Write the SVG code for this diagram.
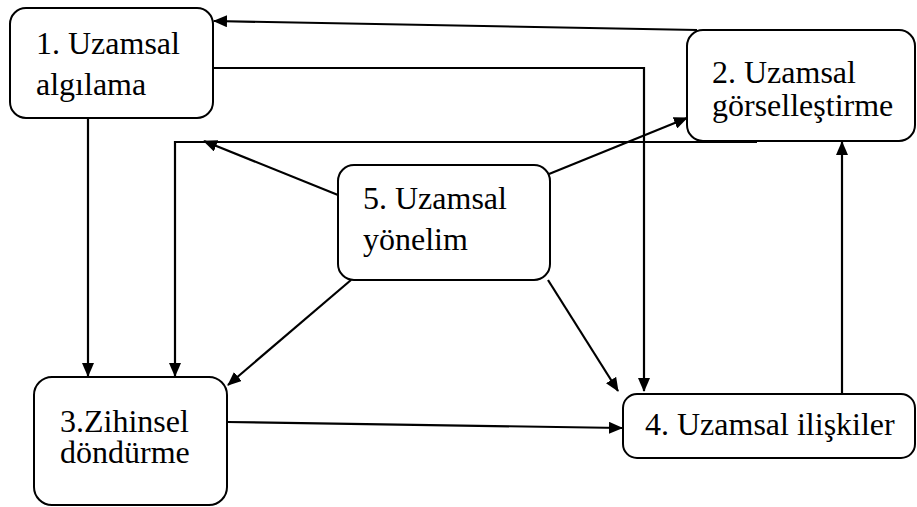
<svg xmlns="http://www.w3.org/2000/svg" width="917" height="507" viewBox="0 0 917 507">
  <style>
    .box { fill: #ffffff; stroke: #000000; stroke-width: 2; }
    .lbl { font-family: 'Liberation Serif', 'Times New Roman', serif; font-size: 32px; fill: #000000; }
    .edge { fill: none; stroke: #000000; stroke-width: 2.2; }
  </style>
  <defs>
    <marker id="arrow" viewBox="0 0 14 12" refX="13" refY="6" markerWidth="14" markerHeight="12" markerUnits="userSpaceOnUse" orient="auto">
      <path d="M0,0 L14,6 L0,12 Z" fill="#000000"/>
    </marker>
  </defs>
  <rect width="917" height="507" fill="#ffffff"/>

  <g id="connectors">
    <!-- 2 -> 1 -->
    <path class="edge" d="M697,30 L214,21" marker-end="url(#arrow)"/>
    <!-- 1 -> 4 -->
    <path class="edge" d="M213,68 L644,68 L644,391" marker-end="url(#arrow)"/>
    <!-- 1 -> 3 -->
    <path class="edge" d="M88,118 L88,376" marker-end="url(#arrow)"/>
    <!-- 2 -> 3 -->
    <path class="edge" d="M757,142 L175,142 L175,376" marker-end="url(#arrow)"/>
    <!-- 5 -> top line -->
    <path class="edge" d="M338,195 L204,141" marker-end="url(#arrow)"/>
    <!-- 5 -> 2 -->
    <path class="edge" d="M549,174 L687,118" marker-end="url(#arrow)"/>
    <!-- 5 -> 3 -->
    <path class="edge" d="M351,280 L228,385" marker-end="url(#arrow)"/>
    <!-- 5 -> 4 -->
    <path class="edge" d="M548,280 L618,391" marker-end="url(#arrow)"/>
    <!-- 3 -> 4 -->
    <path class="edge" d="M227,422 L622,428" marker-end="url(#arrow)"/>
    <!-- 4 -> 2 -->
    <path class="edge" d="M842,394 L842,142" marker-end="url(#arrow)"/>
  </g>

  <g id="node1">
    <rect class="box" x="10" y="8" width="203" height="110" rx="16"/>
    <text class="lbl" x="36" y="54">1. Uzamsal</text>
    <text class="lbl" x="36" y="95">algılama</text>
  </g>
  <g id="node2">
    <rect class="box" x="687" y="30" width="228" height="111" rx="16"/>
    <text class="lbl" x="712" y="83">2. Uzamsal</text>
    <text class="lbl" x="712" y="116">görselleştirme</text>
  </g>
  <g id="node5">
    <rect class="box" x="338" y="165" width="212" height="115" rx="16"/>
    <text class="lbl" x="363" y="209">5. Uzamsal</text>
    <text class="lbl" x="363" y="250">yönelim</text>
  </g>
  <g id="node3">
    <rect class="box" x="34" y="377" width="193" height="128" rx="18"/>
    <text class="lbl" x="60" y="432">3.Zihinsel</text>
    <text class="lbl" x="60" y="463">döndürme</text>
  </g>
  <g id="node4">
    <rect class="box" x="623" y="394" width="292" height="64" rx="14"/>
    <text class="lbl" x="645" y="435">4. Uzamsal ilişkiler</text>
  </g>
</svg>
